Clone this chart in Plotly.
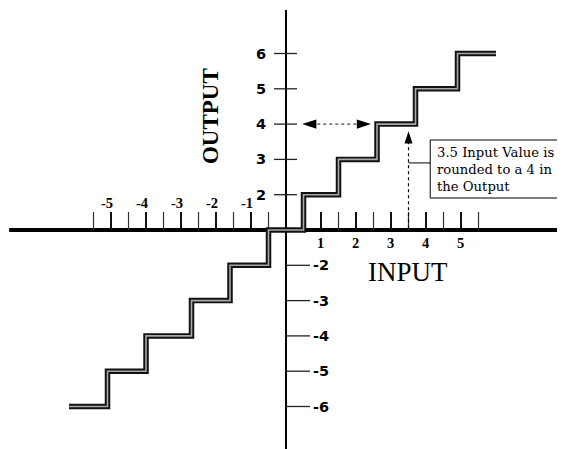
import plotly.graph_objects as go

# ---------------- data ----------------
# staircase: breakpoints along the input axis and the output level of each interval
input_edges = [-6.2, -5.1, -4.0, -2.7, -1.6, -0.5, 0.5, 1.5, 2.6, 3.7, 4.9, 6.0]
output_levels = [-6, -5, -4, -3, -2, 0, 2, 3, 4, 5, 6]

x_major_ticks = [-5, -4, -3, -2, -1, 1, 2, 3, 4, 5]
x_minor_ticks = [-5.5, -4.5, -3.5, -2.5, -1.5, -0.5, 0.5, 1.5, 2.5, 3.5, 4.5, 5.5]
x_tick_labels = ["-5", "-4", "-3", "-2", "-1", "1", "2", "3", "4", "5"]

y_tick_values = [2, 3, 4, 5, 6, -2, -3, -4, -5, -6]
y_tick_labels = ["2", "3", "4", "5", "6", "-2", "-3", "-4", "-5", "-6"]

example_input = 3.5
example_output = 4
note_lines = ["3.5 Input Value is", "rounded to a 4 in", "the Output"]


def y_pos(v):
    """Broken output axis: the band between -1 and 1 is collapsed onto the input axis."""
    if v > 0:
        return v - 1
    if v < 0:
        return v + 1
    return 0


SERIF = "Liberation Serif, Times New Roman, serif"

fig = go.Figure()

# ---------------- staircase (double "tube" line) ----------------
sx = list(input_edges)
sy = [y_pos(v) for v in output_levels] + [y_pos(output_levels[-1])]
fig.add_trace(go.Scatter(x=sx, y=sy, mode="lines", line=dict(color="#111", width=5.5, shape="hv"),
                         hoverinfo="skip", showlegend=False))
fig.add_trace(go.Scatter(x=sx, y=sy, mode="lines", line=dict(color="#a8a8a8", width=1.6, shape="hv"),
                         hoverinfo="skip", showlegend=False))

shapes = []
# axes
shapes.append(dict(type="line", xref="x", yref="y", x0=-7.91, x1=8.4, y0=0, y1=0,
                   line=dict(color="black", width=4), layer="below"))
shapes.append(dict(type="line", xref="x", yref="y", x0=0, x1=0, y0=-6.6, y1=6.23,
                   line=dict(color="black", width=2), layer="below"))
# x ticks (above the axis)
for t in x_major_ticks:
    shapes.append(dict(type="line", xref="x", yref="y", ysizemode="pixel", yanchor=0,
                       x0=t, x1=t, y0=0, y1=18, line=dict(color="#111", width=2), layer="below"))
for t in x_minor_ticks:
    shapes.append(dict(type="line", xref="x", yref="y", ysizemode="pixel", yanchor=0,
                       x0=t, x1=t, y0=0, y1=18, line=dict(color="#333", width=1.2), layer="below"))
# y ticks
for v in y_tick_values:
    if v > 0:
        x0, x1 = -12, 11
    else:
        x0, x1 = 0, 24
    shapes.append(dict(type="line", xref="x", yref="y", xsizemode="pixel", xanchor=0,
                       x0=x0, x1=x1, y0=y_pos(v), y1=y_pos(v),
                       line=dict(color="#222", width=1.3), layer="below"))

# dotted horizontal double arrow at output level 4
lvl = y_pos(example_output)
fig.add_trace(go.Scatter(x=[0.55, 2.3], y=[lvl, lvl], mode="lines",
                         line=dict(color="#444", width=1.2, dash="dot"),
                         hoverinfo="skip", showlegend=False))
fig.add_trace(go.Scatter(x=[0.46, 2.43], y=[lvl, lvl], mode="markers",
                         marker=dict(symbol="arrow", size=15, color="black", angle=[-90, 90]),
                         hoverinfo="skip", showlegend=False))

# dashed vertical arrow at input 3.5
tip = 2.8
fig.add_trace(go.Scatter(x=[example_input, example_input], y=[0.05, tip - 0.25], mode="lines",
                         line=dict(color="black", width=1.2, dash="3px,3px"),
                         hoverinfo="skip", showlegend=False))
fig.add_trace(go.Scatter(x=[example_input], y=[tip], mode="markers",
                         marker=dict(symbol="arrow", size=13, color="black", angle=0),
                         hoverinfo="skip", showlegend=False))

# note box and leader
shapes.append(dict(type="line", xref="x", yref="y", x0=example_input, x1=4.12, y0=1.9, y1=1.9,
                   line=dict(color="black", width=1)))
shapes.append(dict(type="rect", xref="x", yref="y", x0=4.12, x1=7.93, y0=0.906, y1=2.55,
                   line=dict(color="black", width=1), fillcolor="white"))

annotations = []
annotations.append(dict(x=4.27, y=1.70, xref="x", yref="y", text="<br>".join(note_lines),
                        showarrow=False, xanchor="left", yanchor="middle", align="left",
                        font=dict(family="DejaVu Serif", size=13.2, color="black")))

# tick labels
for t, lab in zip(x_major_ticks, x_tick_labels):
    if t < 0:
        annotations.append(dict(x=t, y=0, xref="x", yref="y", text=lab, showarrow=False,
                                xshift=-4, yshift=27, xanchor="center", yanchor="middle",
                                font=dict(family=SERIF, size=14.5, color="black", weight="bold")))
    else:
        annotations.append(dict(x=t, y=0, xref="x", yref="y", text=lab, showarrow=False,
                                xshift=-1, yshift=-13, xanchor="center", yanchor="middle",
                                font=dict(family=SERIF, size=14.5, color="black", weight="bold")))
for v, lab in zip(y_tick_values, y_tick_labels):
    annotations.append(dict(x=0, y=y_pos(v), xref="x", yref="y", text=lab, showarrow=False,
                            xshift=(-25 if v > 0 else 35), yshift=0, xanchor="center", yanchor="middle",
                            font=dict(family="DejaVu Sans", size=14.5, color="black", weight="bold")))

# axis titles
annotations.append(dict(x=-2.14, y=3.23, xref="x", yref="y", text="OUTPUT", showarrow=False,
                        textangle=-90, xanchor="center", yanchor="middle",
                        font=dict(family=SERIF, size=23, color="black", weight="bold")))
annotations.append(dict(x=3.49, y=-1.19, xref="x", yref="y", text="INPUT", showarrow=False,
                        xanchor="center", yanchor="middle",
                        font=dict(family=SERIF, size=27, color="black")))

# the page places the figure 8 px in from the top-left corner; ranges compensate for that
fig.update_layout(
    width=557, height=441, autosize=False,
    margin=dict(l=0, r=0, t=0, b=0),
    paper_bgcolor="white", plot_bgcolor="white",
    xaxis=dict(range=[-7.943, 7.971], visible=False, fixedrange=True),
    yaxis=dict(range=[-6.204, 6.289], visible=False, fixedrange=True),
    shapes=shapes, annotations=annotations, showlegend=False,
)

fig.write_html("out.html")
